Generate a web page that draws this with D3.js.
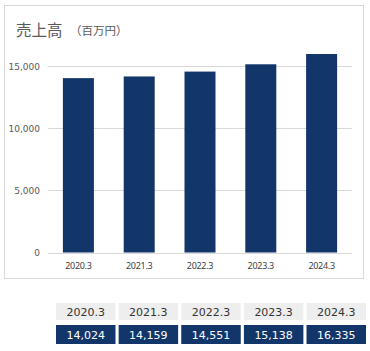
<!DOCTYPE html>
<html><head><meta charset="utf-8">
<script src="https://cdn.jsdelivr.net/npm/d3@7/dist/d3.min.js"></script>
<style>body{margin:0;background:#fff;}svg{display:block;}</style>
</head><body>
<script>
const categories = ["2020.3","2021.3","2022.3","2023.3","2024.3"];
const values = [14024,14159,14551,15138,16335];
const yTicks = [0,5000,10000,15000];
const valueLabels = ["14,024","14,159","14,551","15,138","16,335"];

const W=370,H=351;
const svg=d3.select("body").append("svg").attr("width",W).attr("height",H);
svg.append("defs").append("clipPath").attr("id","plotclip")
  .append("rect").attr("x",40).attr("y",54).attr("width",320).attr("height",210);
// frame
svg.append("rect").attr("x",4.5).attr("y",5.5).attr("width",359).attr("height",273)
  .attr("fill","#fff").attr("stroke","#d9d9d9").attr("stroke-width",1);
// title
svg.append("text").attr("x",16).attr("y",36).attr("font-family","'Noto Sans CJK JP'")
  .attr("font-size",15.5).attr("fill","#595959").text("売上高");
svg.append("text").attr("x",70).attr("y",35).attr("font-family","'Noto Sans CJK JP'")
  .attr("font-size",11.5).attr("fill","#595959").text("（百万円）");

const x=d3.scaleBand().domain(categories).range([48,352]).paddingInner(0.49).paddingOuter(0.245);
const y=d3.scaleLinear().domain([0,15000]).range([252.5,66]);

const g=svg.append("g");
g.selectAll("line.grid").data(yTicks).join("line").attr("class","grid")
  .attr("x1",48).attr("x2",352).attr("y1",d=>Math.round(y(d))+0.5).attr("y2",d=>Math.round(y(d))+0.5)
  .attr("stroke","#d9d9d9").attr("stroke-width",1);
g.selectAll("text.yt").data(yTicks).join("text").attr("class","yt")
  .attr("x",40).attr("y",d=>y(d)+3.5).attr("text-anchor","end")
  .attr("font-family","'DejaVu Sans'").attr("font-size",9).attr("fill","#595959")
  .text(d=>d3.format(",")(d));
g.append("g").attr("clip-path","url(#plotclip)")
  .selectAll("rect.bar").data(values).join("rect").attr("class","bar")
  .attr("x",(d,i)=>x(categories[i])).attr("width",x.bandwidth())
  .attr("y",d=>y(d)).attr("height",d=>y(0)-y(d)).attr("fill","#12366a");
g.selectAll("text.xt").data(categories).join("text").attr("class","xt")
  .attr("x",d=>x(d)+x.bandwidth()/2).attr("y",269).attr("text-anchor","middle")
  .attr("font-family","'Noto Sans'").attr("font-size",9).attr("fill","#404040")
  .attr("letter-spacing",-0.3).text(d=>d);

// table
const tx=d3.scaleBand().domain(categories).range([56,366]).paddingInner(0.05).paddingOuter(0);
const t=svg.append("g");
t.selectAll("rect.h").data(categories).join("rect").attr("class","h")
  .attr("x",d=>tx(d)).attr("width",tx.bandwidth()).attr("y",303).attr("height",17).attr("fill","#eeeeee");
t.selectAll("text.h").data(categories).join("text").attr("class","h")
  .attr("x",d=>tx(d)+tx.bandwidth()/2).attr("y",315.5).attr("text-anchor","middle")
  .attr("font-family","'DejaVu Sans'").attr("font-size",11).attr("fill","#333").text(d=>d);
t.selectAll("rect.v").data(valueLabels).join("rect").attr("class","v")
  .attr("x",(d,i)=>tx(categories[i])).attr("width",tx.bandwidth()).attr("y",325).attr("height",19).attr("fill","#12366a");
t.selectAll("text.v").data(valueLabels).join("text").attr("class","v")
  .attr("x",(d,i)=>tx(categories[i])+tx.bandwidth()/2).attr("y",338.5).attr("text-anchor","middle")
  .attr("font-family","'DejaVu Sans'").attr("font-size",11).attr("fill","#fff").text(d=>d);
</script>
</body></html>
